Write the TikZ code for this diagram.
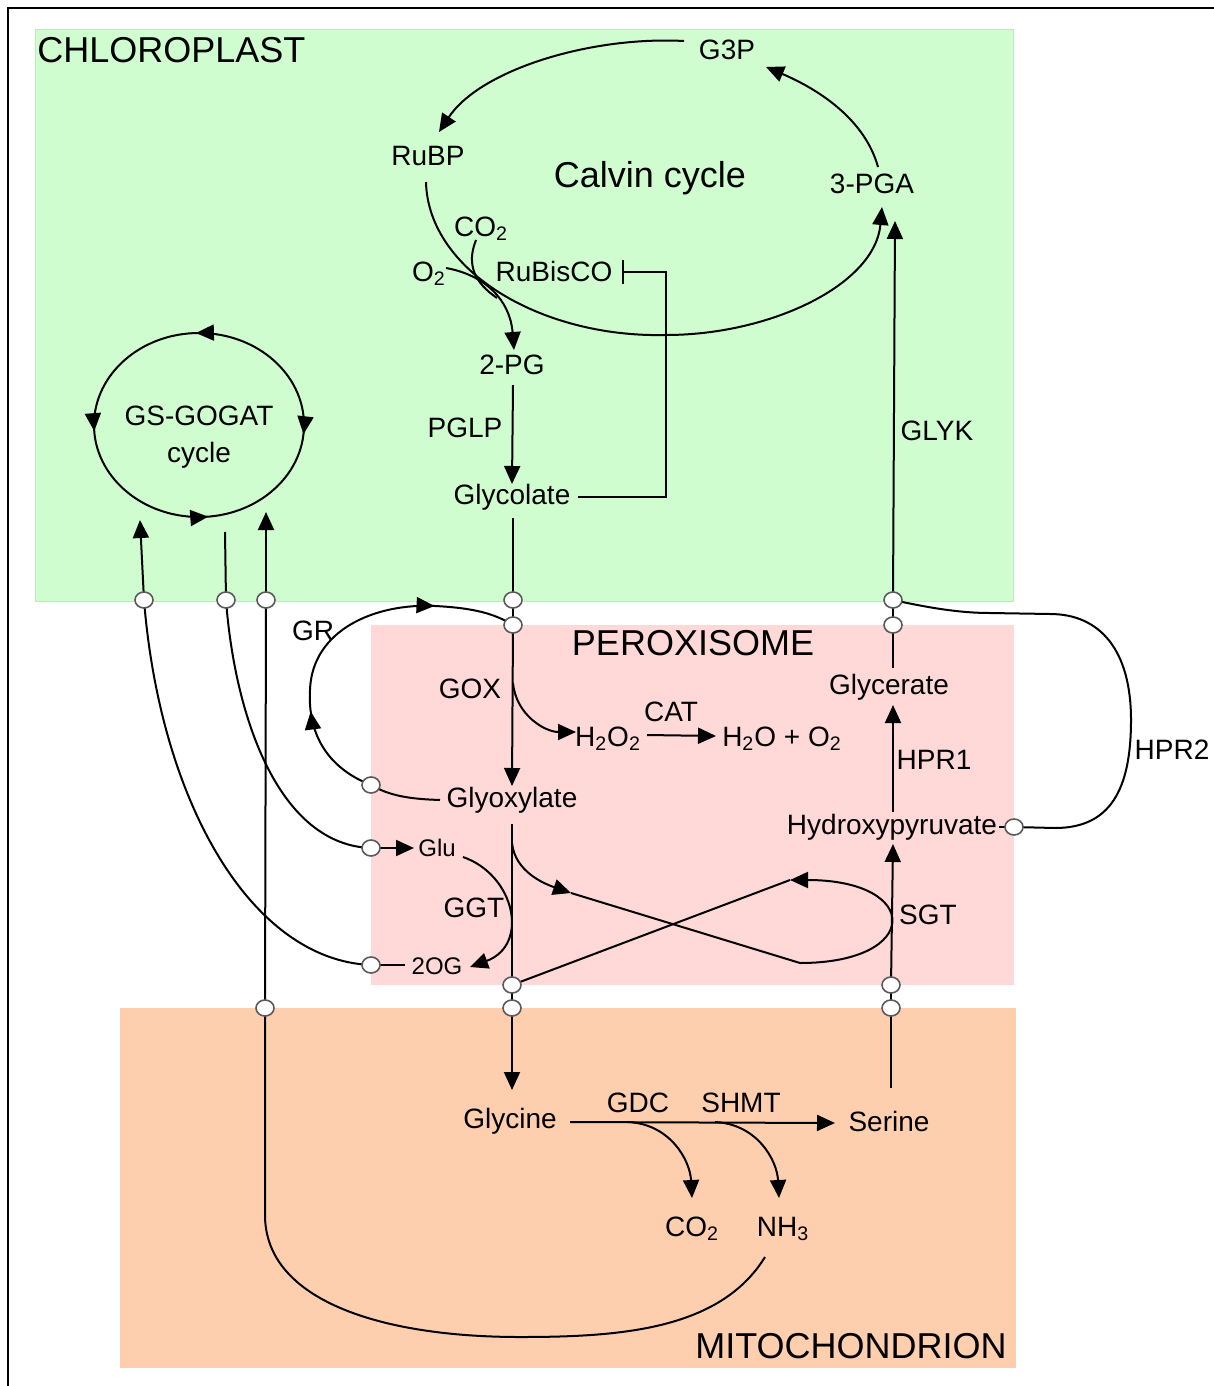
\documentclass[tikz,border=0pt]{standalone}
\usepackage{fontspec}
\setmainfont{Liberation Sans}
\usetikzlibrary{arrows.meta,decorations.markings,shapes.geometric}
\definecolor{chlfill}{RGB}{208,253,208}
\definecolor{chldraw}{RGB}{188,236,188}
\definecolor{perfill}{RGB}{255,216,216}
\definecolor{mitfill}{RGB}{253,207,174}
\definecolor{portgray}{RGB}{90,90,90}
\tikzset{
  lbl/.style={inner sep=0pt, font=\fontsize{14}{16}\selectfont},
  big/.style={inner sep=0pt, font=\fontsize{18}{20}\selectfont},
  sml/.style={inner sep=0pt, font=\fontsize{12}{14}\selectfont},
  con/.style={line width=1pt},
  tip/.style={line width=1pt, -{Triangle[length=9pt,width=8pt]}},
  inhib/.style={line width=1pt, -{Bar[width=12pt]}},
  port/.style={ellipse, draw=portgray, fill=white, line width=0.8pt,
    minimum width=9pt, minimum height=8pt, inner sep=0pt}
}
\begin{document}
\begin{tikzpicture}[x=0.5pt,y=-0.5pt]
\useasboundingbox (0,0) rectangle (1214,1386);
% compartments
\fill[chlfill, draw=chldraw, line width=0.5pt] (35,30) rectangle (1013,601);
\fill[perfill] (371,625) rectangle (1014,985);
\fill[mitfill] (120,1008) rectangle (1016,1368);
\draw[line width=1pt] (8,1386) -- (8,8) -- (1214,8);

% labels
\node[big, anchor=west] (chl) at (37,50) {CHLOROPLAST};
\node[big] (perox) at (693,643) {PEROXISOME};
\node[big, anchor=east] (mito) at (1007,1346) {MITOCHONDRION};
\node[big] (calvin) at (650,178) {Calvin cycle};
\node[lbl] (g3p) at (727,50) {G3P};
\node[lbl] (rubp) at (428,156) {RuBP};
\node[lbl] (pga) at (872,184) {3-PGA};
\node[lbl] (co2a) at (481,229) {CO\textsubscript{2}};
\node[lbl] (o2) at (429,274) {O\textsubscript{2}};
\node[lbl] (rubisco) at (554,271) {RuBisCO};
\node[lbl] (pg2) at (512,365) {2-PG};
\node[lbl] (pglp) at (465,428) {PGLP};
\node[lbl] (glycolate) at (512,497) {Glycolate};
\node[lbl] (glyk) at (937,431) {GLYK};
\node[lbl, align=center, font=\fontsize{14}{18.5}\selectfont] (gs) at (199,437) {GS-GOGAT\\cycle};
\node[lbl] (gr) at (313,631) {GR};
\node[lbl] (gox) at (470,689) {GOX};
\node[lbl] (h2o2) at (608,739) {H\textsubscript{2}O\textsubscript{2}};
\node[lbl] (cat) at (671,712) {CAT};
\node[lbl] (h2o) at (782,739) {H\textsubscript{2}O + O\textsubscript{2}};
\node[lbl] (glycerate) at (889,687) {Glycerate};
\node[lbl] (hpr1) at (934,760) {HPR1};
\node[lbl] (hpr2) at (1172,750) {HPR2};
\node[lbl] (glyoxylate) at (512,800) {Glyoxylate};
\node[lbl] (hpyr) at (892,827) {Hydroxypyruvate};
\node[sml] (glu) at (437,848) {Glu};
\node[lbl] (ggt) at (474,908) {GGT};
\node[lbl] (sgt) at (928,915) {SGT};
\node[sml] (og) at (437,966) {2OG};
\node[lbl] (glycine) at (510,1121) {Glycine};
\node[lbl] (gdc) at (638,1103) {GDC};
\node[lbl] (shmt) at (741,1103) {SHMT};
\node[lbl] (serine) at (889,1121) {Serine};
\node[lbl] (co2b) at (692,1229) {CO\textsubscript{2}};
\node[lbl] (nh3) at (783,1229) {NH\textsubscript{3}};

% ports (drawn later on top, positions defined here)
\coordinate (pc1) at (144,600);
\coordinate (pc2) at (226,600);
\coordinate (pc3) at (266,600);
\coordinate (pc4) at (513,600);
\coordinate (pp1) at (513,625);
\coordinate (pc5) at (893,600);
\coordinate (pp2) at (893,625);
\coordinate (pgr) at (371,785);
\coordinate (pglu) at (371,848);
\coordinate (pog) at (371,965);
\coordinate (pp3) at (512,985);
\coordinate (pm1) at (512,1008);
\coordinate (pm0) at (265,1008);
\coordinate (pp4) at (891,985);
\coordinate (pm2) at (891,1008);
\coordinate (phpr) at (1014,827);

% connector end points
\coordinate (g3pL) at (684,41);
\coordinate (rubpT) at (439,132);
\coordinate (pgaT) at (878,167);
\coordinate (g3pB) at (766,67);
\coordinate (rubpB) at (426,182);
\coordinate (cycB) at (666,335);
\coordinate (pgaB) at (882,207);
\coordinate (o2E) at (446,268);
\coordinate (co2S) at (476,240);
\coordinate (co2J) at (497,298);
\coordinate (pg2T) at (514,350);
\coordinate (pg2B) at (513,385);
\coordinate (glcT) at (512,484);
\coordinate (glcB) at (513,518);
\coordinate (glcE) at (578,497);
\coordinate (inhA) at (666,497);
\coordinate (inhB) at (666,272);
\coordinate (rbcE) at (622,272);
\coordinate (goxS) at (513,683);
\coordinate (h2o2W) at (576,732);
\coordinate (h2o2E) at (647,735);
\coordinate (h2oW) at (716,736);
\coordinate (glxT) at (512,786);
\coordinate (glxW) at (440,800);
\coordinate (glxB) at (512,824);
\coordinate (glxS) at (512,843);
\coordinate (crossA) at (571,893);
\coordinate (crossB) at (800,963);
\coordinate (crossC) at (790,880);
\coordinate (gluW) at (414,848);
\coordinate (gluE) at (463,857);
\coordinate (ogE) at (470,967);
\coordinate (ogW) at (405,965);
\coordinate (gsA) at (140,520);
\coordinate (gsB) at (225,532);
\coordinate (gsC) at (266,512);
\coordinate (nh3B) at (765,1257);
\coordinate (uBot) at (520,1337);
\coordinate (uL) at (265,1215);
\coordinate (gcnT) at (512,1090);
\coordinate (gcnE) at (570,1122);
\coordinate (serW) at (835,1123);
\coordinate (gdcS) at (628,1122);
\coordinate (shmtS) at (715,1122);
\coordinate (co2T) at (692,1198);
\coordinate (nh3T) at (779,1198);
\coordinate (serT) at (891,1088);
\coordinate (hpyB) at (893,844);
\coordinate (hpyT) at (893,812);
\coordinate (glyB) at (893,705);
\coordinate (glyT) at (893,668);
\coordinate (pgaG) at (895,221);
\coordinate (hpyE) at (999,827);
\coordinate (h2a) at (1055,828);
\coordinate (h2b) at (1131,720);
\coordinate (h2c) at (1050,614);
\coordinate (h2d) at (990,613);

% Calvin cycle
\draw[tip] (g3pL) .. controls (590,36) and (480,70) .. (rubpT);
\draw[tip] (pgaT) .. controls (865,120) and (820,90) .. (g3pB);
\draw[tip] (rubpB) .. controls (428,270) and (540,338) .. (cycB)
  .. controls (770,335) and (875,285) .. (pgaB);
\draw[tip] (o2E) .. controls (485,275) and (510,300) .. (pg2T);
\draw[con] (co2S) .. controls (466,265) and (475,283) .. (co2J);
\draw[tip] (pg2B) -- (glcT);
\draw[inhib] (glcE) -- (inhA) -- (inhB) -- (rbcE);

% GS-GOGAT cycle
\draw[con, postaction={decorate}, decoration={markings,
  mark=at position 0.015 with {\arrow{Triangle[length=9pt,width=8pt]}},
  mark=at position 0.235 with {\arrowreversed{Triangle[length=9pt,width=8pt]}},
  mark=at position 0.49 with {\arrowreversed{Triangle[length=9pt,width=8pt]}},
  mark=at position 0.745 with {\arrowreversed{Triangle[length=9pt,width=8pt]}}}]
  (199,425) ellipse [x radius=105, y radius=92];

% glycolate -> glyoxylate
\draw[con] (glcB) -- (pc4);
\draw[con] (pc4) -- (pp1);
\draw[tip] (pp1) -- (glxT);
\draw[tip] (goxS) .. controls (516,715) and (545,732) .. (h2o2W);
\draw[tip] (h2o2E) -- (h2oW);

% GR loop
\draw[con] (glxW) .. controls (410,799) and (390,796) .. (pgr);
\draw[con, postaction={decorate}, decoration={markings,
  mark=at position 0.27 with {\arrow{Triangle[length=9pt,width=8pt]}},
  mark=at position 0.78 with {\arrow{Triangle[length=9pt,width=8pt]}}}]
  (pgr) .. controls (320,765) and (308,725) .. (310,690)
  .. controls (312,630) and (375,603) .. (435,606)
  .. controls (475,608) and (495,614) .. (pp1);

% glyoxylate -> glycine, SGT crossing
\draw[con] (glxB) -- (pp3);
\draw[tip] (glxS) .. controls (515,872) and (545,884) .. (crossA);
\draw[tip] (crossA) -- (crossB) .. controls (922,963) and (922,880) .. (crossC);
\draw[con] (crossC) -- (pp3);
\draw[con] (pp3) -- (pm1);
\draw[tip] (pm1) -- (gcnT);

% GGT
\draw[tip] (pglu) -- (gluW);
\draw[tip] (gluE) .. controls (515,875) and (530,945) .. (ogE);
\draw[con] (ogW) -- (pog);

% links to GS-GOGAT
\draw[con] (pog) .. controls (250,960) and (160,800) .. (pc1);
\draw[tip] (pc1) -- (gsA);
\draw[con] (gsB) -- (pc2);
\draw[con] (pc2) .. controls (235,720) and (280,845) .. (pglu);
\draw[con] (nh3B) .. controls (720,1330) and (620,1337) .. (uBot)
  .. controls (380,1337) and (265,1300) .. (uL) -- (pm0);
\draw[con] (pm0) -- (pc3);
\draw[tip] (pc3) -- (gsC);

% mitochondrion
\draw[tip] (gcnE) -- (serW);
\draw[tip] (gdcS) .. controls (670,1124) and (690,1160) .. (co2T);
\draw[tip] (shmtS) .. controls (757,1124) and (777,1160) .. (nh3T);
\draw[con] (serT) -- (pm2);
\draw[con] (pm2) -- (pp4);
\draw[tip] (pp4) -- (hpyB);
\draw[tip] (hpyT) -- (glyB);
\draw[con] (glyT) -- (pp2);
\draw[con] (pp2) -- (pc5);
\draw[tip] (pc5) -- (pgaG);

% HPR2
\draw[con] (hpyE) -- (phpr);
\draw[con] (phpr) -- (h2a) .. controls (1110,828) and (1131,790) .. (h2b)
  .. controls (1131,650) and (1100,614) .. (h2c) -- (h2d)
  .. controls (960,613) and (930,608) .. (pc5);

% port circles on top
\foreach \p in {pc1,pc2,pc3,pc4,pp1,pc5,pp2,pgr,pglu,pog,pp3,pm1,pm0,pp4,pm2,phpr}
  \node[port] (n\p) at (\p) {};
\end{tikzpicture}
\end{document}
